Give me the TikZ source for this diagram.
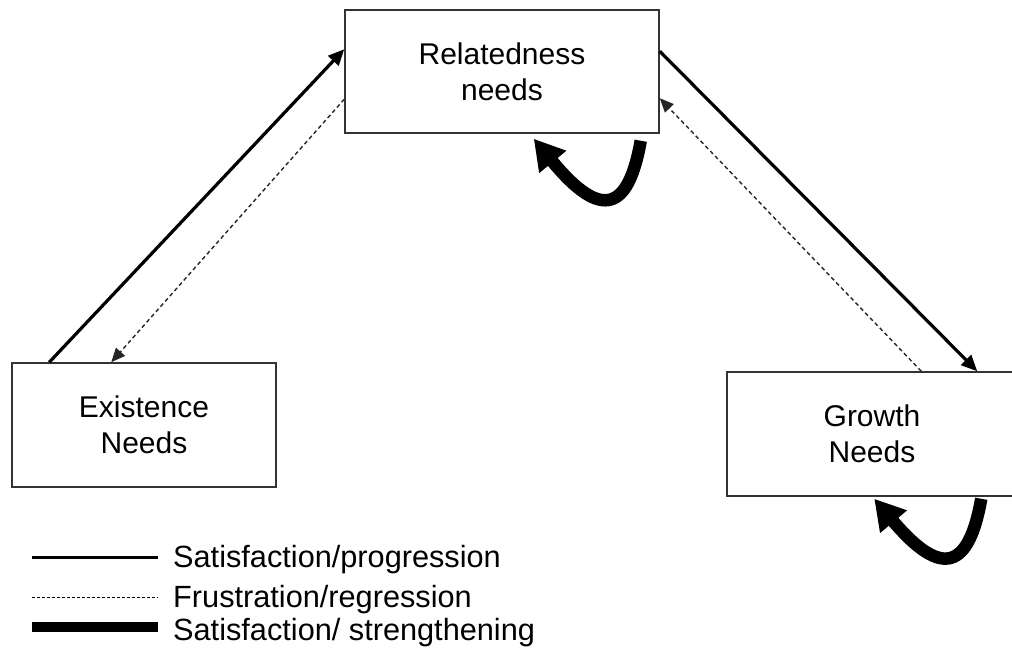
\documentclass[tikz,border=0pt]{standalone}
\usepackage{fontspec}
\setmainfont{Liberation Sans}
\usetikzlibrary{arrows.meta,calc}
\begin{document}
\begin{tikzpicture}[x=1pt,y=-1pt,
  needbox/.style={draw=black!80,line width=1.5pt,fill=white,inner sep=0pt,
    align=center,font=\fontsize{30}{36}\selectfont},
  legtext/.style={anchor=base west,inner sep=0pt,font=\fontsize{30.7}{36}\selectfont},
  progress/.style={line width=3.2pt,-{Triangle[length=16pt,width=14pt]}},
  regress/.style={line width=1.4pt,black!85,dash pattern=on 4pt off 3pt,-{Triangle[length=14pt,width=12pt]}},
  strengthen/.style={line width=12.5pt,-{Triangle[length=30pt,width=33pt]}}]
\useasboundingbox (0,0) rectangle (1012,650);
\clip (0,0) rectangle (1012,650);
\fill[white] (0,0) rectangle (1012,650);

% the three needs
\node[needbox,minimum width=314pt,minimum height=123pt] (rel) at (502,71.5) {Relatedness\\needs};
\node[needbox,minimum width=264pt,minimum height=124pt] (ext) at (144,425) {Existence\\Needs};
\node[needbox,minimum width=290pt,minimum height=124pt] (gro) at (872,434) {Growth\\Needs};

% attachment points on the boxes
\coordinate (e1) at ($(ext.north west)+(38,0)$);
\coordinate (e2) at ($(ext.north west)+(100,0)$);
\coordinate (r1) at ($(rel.north west)+(0,40)$);
\coordinate (r2) at ($(rel.north west)+(0,90)$);
\coordinate (r3) at ($(rel.north east)+(0,42)$);
\coordinate (r4) at ($(rel.north east)+(0,89)$);
\coordinate (g1) at ($(gro.north west)+(251,0)$);
\coordinate (g2) at ($(gro.north west)+(195,0)$);
\coordinate (rs) at ($(rel.south east)+(-19,7)$);
\coordinate (rt) at ($(rel.south east)+(-126,5)$);
\coordinate (gs) at ($(gro.south west)+(255,2)$);
\coordinate (gt) at ($(gro.south west)+(148,2)$);

% progression and regression
\draw[progress] (e1) -- (r1);
\draw[regress] (r2) -- (e2);
\draw[progress] (r3) -- (g1);
\draw[regress] (g2) -- (r4);

% strengthening loops
\draw[strengthen] (rs) .. controls ($(rs)+(-12,68)$) and ($(rs)+(-38,82)$) .. (rt);
\draw[strengthen] (gs) .. controls ($(gs)+(-12,68)$) and ($(gs)+(-38,82)$) .. (gt);

% legend
\coordinate (l1a) at (32,557); \coordinate (l1b) at (158,557);
\coordinate (l2a) at (32,597); \coordinate (l2b) at (158,597);
\coordinate (l3a) at (32,627); \coordinate (l3b) at (158,627);
\draw[line width=3pt] (l1a) -- (l1b);
\draw[line width=0.9pt,dash pattern=on 3pt off 2pt] (l2a) -- (l2b);
\draw[line width=10pt] (l3a) -- (l3b);
\node[legtext] (t1) at (173,567) {Satisfaction/progression};
\node[legtext] (t2) at (173,607) {Frustration/regression};
\node[legtext] (t3) at (173,640) {Satisfaction/ strengthening};
\end{tikzpicture}
\end{document}
